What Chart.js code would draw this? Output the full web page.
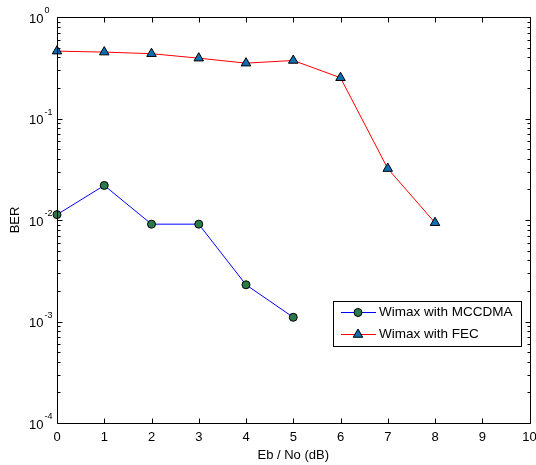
<!DOCTYPE html>
<html>
<head>
<meta charset="utf-8">
<script src="https://cdn.jsdelivr.net/npm/chart.js@4.4.1/dist/chart.umd.min.js"></script>
<style>
  html, body { margin: 0; padding: 0; background: #fff; }
  canvas { display: block; }
</style>
</head>
<body>
<canvas id="ber" width="536" height="465"></canvas>
<script>
// Eb/No in dB
const ebno = [0, 1, 2, 3, 4, 5, 6, 7, 8];

// measured bit error rates
const berMccdma = [0.0113, 0.0219, 0.0091, 0.0091, 0.0023, 0.0011];
const berFec = [0.461, 0.451, 0.435, 0.393, 0.351, 0.373, 0.252, 0.0321, 0.0094];

const seriesNames = ['Wimax with MCCDMA', 'Wimax with FEC'];

// axis ticks
const xTicks = [0, 1, 2, 3, 4, 5, 6, 7, 8, 9, 10];
const yDecades = [0, -1, -2, -3, -4];

const FONT = '"Liberation Sans", Arial, sans-serif';

function toPoints(ys) {
    return ys.map((y, i) => ({ x: ebno[i], y: y }));
}

// frame, ticks, labels and legend drawn on top of the data
const matlabAxes = {
    id: 'matlabAxes',
    afterDraw(chart) {
        const ctx = chart.ctx;
        const area = chart.chartArea;
        const xs = chart.scales.x;
        const ys = chart.scales.y;
        const left = Math.round(area.left) + 0.5;
        const right = Math.round(area.right) + 0.5;
        const top = Math.round(area.top) + 0.5;
        const bottom = Math.round(area.bottom) + 0.5;

        ctx.save();
        ctx.strokeStyle = '#000';
        ctx.lineWidth = 1;
        ctx.beginPath();
        ctx.rect(left, top, right - left, bottom - top);

        // x ticks, bottom and top, pointing inwards
        xTicks.forEach(v => {
            const px = Math.round(xs.getPixelForValue(v)) + 0.5;
            ctx.moveTo(px, bottom); ctx.lineTo(px, bottom - 5);
            ctx.moveTo(px, top); ctx.lineTo(px, top + 5);
        });

        // y major and minor ticks, left and right
        yDecades.forEach(d => {
            for (let m = 1; m <= 9; m++) {
                const val = m * Math.pow(10, d);
                if (val > 1.0000001) continue;
                const py = Math.round(ys.getPixelForValue(val)) + 0.5;
                const len = m === 1 ? 5 : 3;
                ctx.moveTo(left, py); ctx.lineTo(left + len, py);
                ctx.moveTo(right, py); ctx.lineTo(right - len, py);
            }
        });
        ctx.stroke();

        // x tick labels
        ctx.fillStyle = '#000';
        ctx.font = '13px ' + FONT;
        ctx.textAlign = 'center';
        ctx.textBaseline = 'middle';
        xTicks.forEach(v => {
            ctx.fillText(String(v), xs.getPixelForValue(v), 437);
        });

        // y tick labels as 10 with a superscript exponent
        yDecades.forEach(d => {
            const py = ys.getPixelForValue(Math.pow(10, d));
            ctx.font = '13px ' + FONT;
            ctx.textAlign = 'left';
            ctx.textBaseline = 'middle';
            ctx.fillText('10', 29, py + 2);
            const w = ctx.measureText('10').width;
            ctx.font = '9px ' + FONT;
            ctx.fillText(String(d), 29 + w + 1, py - 6);
        });

        // axis titles
        ctx.font = '13px ' + FONT;
        ctx.textAlign = 'center';
        ctx.fillText('Eb / No (dB)', (area.left + area.right) / 2, 455);
        ctx.save();
        ctx.translate(15, (area.top + area.bottom) / 2);
        ctx.rotate(-Math.PI / 2);
        ctx.fillText('BER', 0, 0);
        ctx.restore();

        // legend box
        const lx = 333.5, ly = 301.5, lw = 188, lh = 45;
        ctx.fillStyle = '#fff';
        ctx.fillRect(lx, ly, lw, lh);
        ctx.strokeStyle = '#000';
        ctx.strokeRect(lx, ly, lw, lh);

        const rows = [312.5, 334.5];
        chart.data.datasets.forEach((ds, i) => {
            const ry = rows[i];
            ctx.strokeStyle = ds.borderColor;
            ctx.lineWidth = 1;
            ctx.beginPath();
            ctx.moveTo(341, ry); ctx.lineTo(376, ry);
            ctx.stroke();
            ctx.fillStyle = ds.pointBackgroundColor;
            ctx.strokeStyle = ds.pointBorderColor;
            Chart.helpers.drawPoint(ctx, {
                pointStyle: ds.pointStyle,
                radius: ds.pointRadius,
                rotation: 0,
                borderWidth: ds.pointBorderWidth
            }, 358, ry);
            ctx.fillStyle = '#000';
            ctx.font = '13.5px ' + FONT;
            ctx.textAlign = 'left';
            ctx.textBaseline = 'middle';
            ctx.fillText(seriesNames[i], 379, ry);
        });
        ctx.restore();
    }
};

new Chart(document.getElementById('ber'), {
    type: 'line',
    data: {
        datasets: [
            {
                label: seriesNames[0],
                data: toPoints(berMccdma),
                borderColor: '#0000ff',
                borderWidth: 1,
                pointStyle: 'circle',
                pointRadius: 4,
                pointBackgroundColor: '#2a7a4c',
                pointBorderColor: '#000',
                pointBorderWidth: 1,
                clip: false
            },
            {
                label: seriesNames[1],
                data: toPoints(berFec),
                borderColor: '#ff0000',
                borderWidth: 1,
                pointStyle: 'triangle',
                pointRadius: 5.5,
                pointBackgroundColor: '#0a6fb5',
                pointBorderColor: '#000',
                pointBorderWidth: 1,
                clip: false
            }
        ]
    },
    options: {
        responsive: false,
        animation: false,
        devicePixelRatio: 1,
        layout: { padding: { left: 57, top: 17, right: 5, bottom: 42 } },
        scales: {
            x: { type: 'linear', min: 0, max: 10, display: false },
            y: { type: 'logarithmic', min: 1e-4, max: 1, display: false }
        },
        plugins: {
            legend: { display: false },
            tooltip: { enabled: false }
        }
    },
    plugins: [matlabAxes]
});
</script>
</body>
</html>
